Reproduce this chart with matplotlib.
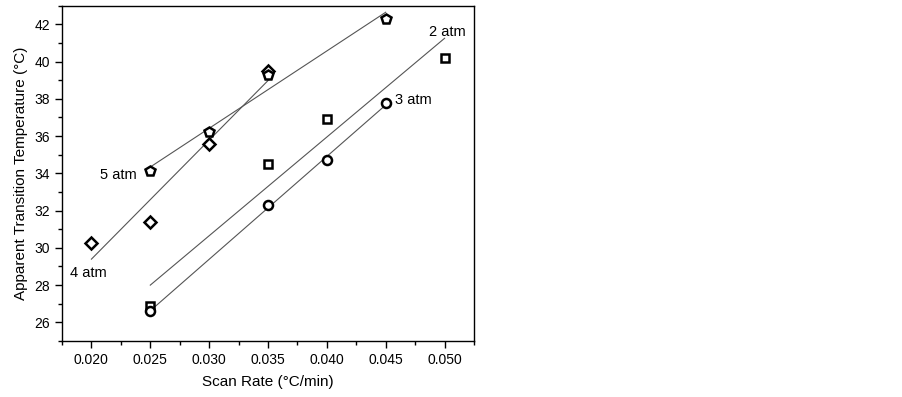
import numpy as np
import matplotlib
matplotlib.use("Agg")
import matplotlib.pyplot as plt
from matplotlib.ticker import MultipleLocator

plt.rcParams['font.family'] = ['Liberation Sans', 'DejaVu Sans']

# data
x_4atm = [0.020, 0.025, 0.030, 0.035]
y_4atm = [30.25, 31.4, 35.6, 39.5]
x_5atm = [0.025, 0.030, 0.035, 0.045]
y_5atm = [34.1, 36.2, 39.3, 42.3]
x_2atm = [0.025, 0.035, 0.040, 0.050]
y_2atm = [26.9, 34.5, 36.9, 40.2]
x_3atm = [0.025, 0.035, 0.040, 0.045]
y_3atm = [26.6, 32.3, 34.7, 37.75]

labels = ["4 atm", "5 atm", "2 atm", "3 atm"]
label_pos = [(0.0182, 28.65), (0.0207, 33.9), (0.0487, 41.6), (0.0458, 37.95)]

fig = plt.figure(figsize=(9.03, 3.97), dpi=100)
ax = fig.add_axes([62/903, 1-341/397, (474-62)/903, (341-5.7)/397])

series = [(x_4atm, y_4atm, 'D', 6.0), (x_5atm, y_5atm, 'p', 7.5),
          (x_2atm, y_2atm, 's', 5.8), (x_3atm, y_3atm, 'o', 6.5)]
for xs, ys, m, ms in series:
    xs = np.array(xs); ys = np.array(ys)
    k, b = np.polyfit(xs, ys, 1)
    xl = np.array([xs.min(), xs.max()])
    ax.plot(xl, k*xl + b, color='#555555', lw=0.8, zorder=2)
    ax.plot(xs, ys, linestyle='none', marker=m, ms=ms, mfc='white',
            mec='black', mew=1.8, zorder=3)

for t, (lx, ly) in zip(labels, label_pos):
    ax.text(lx, ly, t, fontsize=10.5, ha='left', va='center')

ax.set_xlim(0.0175, 0.0525)
ax.set_ylim(25, 43)
ax.xaxis.set_minor_locator(MultipleLocator(0.0025))
ax.yaxis.set_minor_locator(MultipleLocator(1))
ax.set_xticks([0.020, 0.025, 0.030, 0.035, 0.040, 0.045, 0.050])
ax.set_xticklabels(["0.020", "0.025", "0.030", "0.035", "0.040", "0.045", "0.050"])
ax.set_yticks([26, 28, 30, 32, 34, 36, 38, 40, 42])
ax.tick_params(which='major', direction='out', length=5, width=1, labelsize=10)
ax.tick_params(which='minor', direction='out', length=3, width=1)
for s in ax.spines.values():
    s.set_linewidth(1)
ax.set_xlabel("Scan Rate (°C/min)", fontsize=11, labelpad=6)
ax.set_ylabel("Apparent Transition Temperature (°C)", fontsize=11, labelpad=5)

fig.savefig("out.png", dpi=100)
